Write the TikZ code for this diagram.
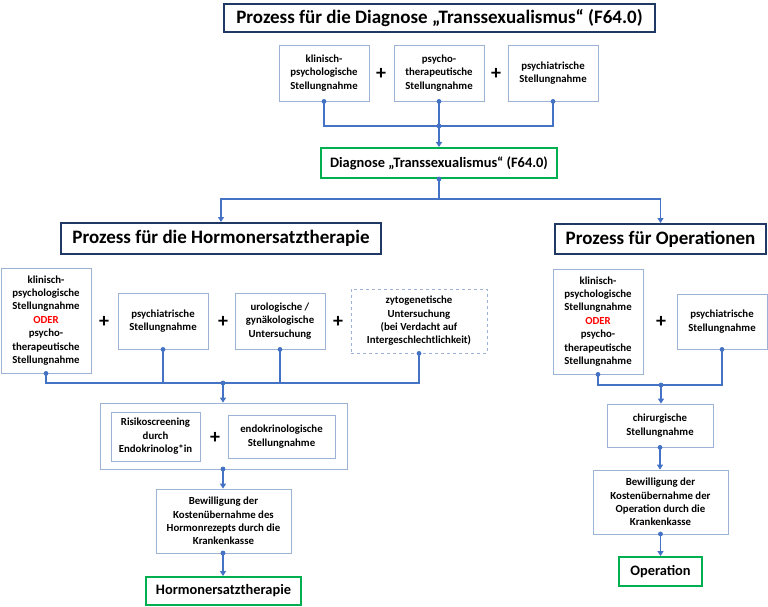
\documentclass[tikz,border=0pt]{standalone}
\usepackage{fontspec}
\setmainfont{Carlito}
\usetikzlibrary{arrows.meta}
\definecolor{boxline}{HTML}{9DB3D6}
\definecolor{navy}{HTML}{1F3864}
\definecolor{grn}{HTML}{00B050}
\definecolor{conn}{HTML}{4472C4}
\definecolor{oder}{HTML}{FF0000}
\tikzset{
  sz/.style 2 args={minimum width=#1pt, minimum height=#2pt},
  sbox/.style={draw=boxline, line width=0.8pt, fill=white, align=center, inner sep=1pt,
    font=\bfseries\fontsize{10.8}{13.4}\selectfont},
  dbox/.style={sbox, dashed},
  tbox/.style={draw=navy, line width=2pt, fill=white, align=center, inner sep=1pt,
    font=\bfseries\fontsize{19}{22}\selectfont},
  gbox/.style={draw=grn, line width=2pt, fill=white, align=center, inner sep=1pt,
    font=\bfseries\fontsize{14.4}{17}\selectfont},
  plus/.style={font=\bfseries\fontsize{20}{20}\selectfont, inner sep=0pt},
  cline/.style={draw=conn, line width=1.6pt},
  carrow/.style={cline, -{Triangle[length=5pt,width=6pt]}},
  dotc/.style={fill=conn},
}
\begin{document}
\begin{tikzpicture}[x=1pt,y=-1pt]
\useasboundingbox[fill=white] (0,0) rectangle (768,607);

% top section
\node[tbox, sz={431}{28}] (title) at (439.5,18) {Prozess für die Diagnose „Transsexualismus“ (F64.0)};
\node[sbox, sz={90}{56}] (t1) at (324,73) {klinisch-\\psychologische\\Stellungnahme};
\node[sbox, sz={90}{56}] (t2) at (439,73) {psycho-\\therapeutische\\Stellungnahme};
\node[sbox, sz={90}{56}] (t3) at (553,73) {psychiatrische\\Stellungnahme};
\node[plus] (p1) at (381,74) {+};
\node[plus] (p2) at (496,74) {+};
\node[gbox, sz={236}{30}] (diag) at (439,163) {Diagnose „Transsexualismus“ (F64.0)};
\coordinate (j1) at (439,126);
\draw[cline] (t1.south) |- (j1);
\draw[cline] (t3.south) |- (j1);
\draw[cline] (t2.south) -- (j1);
\draw[carrow] (j1) -- (diag.north);
\foreach \n in {t1,t2,t3} \fill[dotc] (\n.south) circle (2.4pt);
\fill[dotc] (j1) circle (2.4pt);

% process titles
\node[tbox, sz={320}{31}] (htitle) at (221,238.5) {Prozess für die Hormonersatztherapie};
\node[tbox, sz={211}{30}] (otitle) at (660.5,239) {Prozess für Operationen};
\coordinate (j2) at (439,199);
\draw[cline] (diag.south) -- (j2);
\draw[carrow] (j2) -| (htitle.north);
\draw[carrow] (j2) -| (otitle.north);
\fill[dotc] (diag.south) circle (2.4pt);

% left section
\node[sbox, sz={90}{105}] (a) at (46,320.5) {klinisch-\\psychologische\\Stellungnahme\\\textcolor{oder}{ODER}\\psycho-\\therapeutische\\Stellungnahme};
\node[sbox, sz={90}{56}] (b) at (163,321) {psychiatrische\\Stellungnahme};
\node[sbox, sz={90}{56}] (c) at (280,321) {urologische /\\gynäkologische\\Untersuchung};
\node[dbox, sz={136}{64}] (d) at (419,321) {zytogenetische\\Untersuchung\\(bei Verdacht auf\\Intergeschlechtlichkeit)};
\node[plus] (p3) at (104,322) {+};
\node[plus] (p4) at (223,322) {+};
\node[plus] (p5) at (338,322) {+};
\coordinate (j3) at (223,383);
\draw[cline] (a.south) |- (j3);
\draw[cline] (d.south) |- (j3);
\draw[cline] (b.south) -- (b.south |- j3);
\draw[cline] (c.south) -- (c.south |- j3);

\node[sbox, sz={247}{66}] (grp) at (223.5,436) {};
\node[sbox, sz={89}{49}] (r) at (155.5,436.5) {Risikoscreening\\durch\\Endokrinolog*in};
\node[sbox, sz={107}{43}] (en) at (281.5,436.5) {endokrinologische\\Stellungnahme};
\node[plus] (p6) at (215,438) {+};
\draw[carrow] (j3) -- (j3 |- grp.north);
\foreach \n in {a,b,c,d} \fill[dotc] (\n.south) circle (2.4pt);
\fill[dotc] (j3) circle (2.4pt);

\node[sbox, sz={135}{64}] (bew1) at (223.5,521) {Bewilligung der\\Kostenübernahme des\\Hormonrezepts durch die\\Krankenkasse};
\node[gbox, sz={155}{28}] (hor) at (223.5,591) {Hormonersatztherapie};
\coordinate (g1) at (223,469);
\draw[carrow] (g1) -- (g1 |- bew1.north);
\fill[dotc] (g1) circle (2.4pt);
\coordinate (g2) at (223,553);
\draw[carrow] (g2) -- (g2 |- hor.north);
\fill[dotc] (g2) circle (2.4pt);

% right section
\node[sbox, sz={90}{105}] (e) at (598,321.5) {klinisch-\\psychologische\\Stellungnahme\\\textcolor{oder}{ODER}\\psycho-\\therapeutische\\Stellungnahme};
\node[sbox, sz={90}{55}] (f) at (722,321.5) {psychiatrische\\Stellungnahme};
\node[plus] (p7) at (661,322) {+};
\coordinate (j4) at (661,385);
\node[sbox, sz={106}{43}] (chir) at (660,425.5) {chirurgische\\Stellungnahme};
\draw[cline] (e.south) |- (j4);
\draw[cline] (f.south) |- (j4);
\draw[carrow] (j4) -- (j4 |- chir.north);
\fill[dotc] (e.south) circle (2.4pt);
\fill[dotc] (f.south) circle (2.4pt);
\fill[dotc] (j4) circle (2.4pt);

\node[sbox, sz={135}{64}] (bew2) at (660.5,502) {Bewilligung der\\Kostenübernahme der\\Operation durch die\\Krankenkasse};
\node[gbox, sz={83}{29}] (op) at (660.5,571.5) {Operation};
\draw[carrow] (chir.south) -- (chir.south |- bew2.north);
\fill[dotc] (chir.south) circle (2.4pt);
\coordinate (g3) at (660.5,534);
\draw[carrow] (g3) -- (op.north);
\fill[dotc] (g3) circle (2.4pt);
\end{tikzpicture}
\end{document}
